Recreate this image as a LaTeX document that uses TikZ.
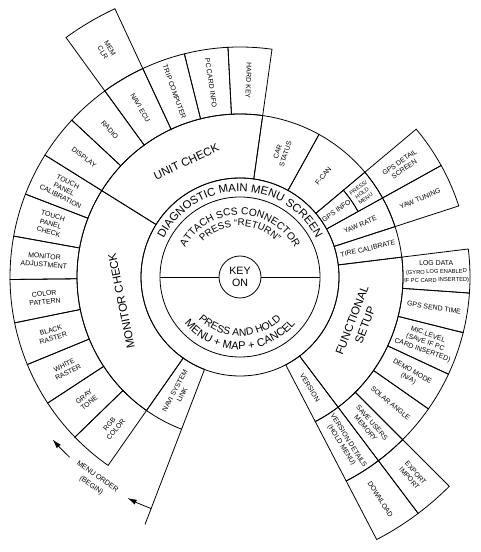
\documentclass[tikz,border=0pt]{standalone}
\usepackage{fontspec}
\setmainfont{Liberation Sans}
\usetikzlibrary{decorations.text,arrows.meta}
\newcommand\drawsector[4]{\draw (#1:#3) arc[start angle=#1,end angle=#2,radius=#3] -- (#2:#4) arc[start angle=#2,end angle=#1,radius=#4] -- cycle;}
\begin{document}
\begin{tikzpicture}[x=0.75pt,y=0.75pt,line width=0.6pt,
  cell/.style={font=\fontsize{5.2}{6.2}\selectfont,align=center,inner sep=0pt},
  tinycell/.style={font=\fontsize{4.1}{4.9}\selectfont,align=center,inner sep=0pt},
  big/.style={font=\fontsize{8.6}{10.5}\selectfont,align=center,inner sep=0pt},
  arrowtip/.style={-{Latex[length=7pt,width=4pt]}}]
\useasboundingbox (-240,-275) rectangle (240,277);

% central rings
\draw (0,0) circle[radius=99];
\draw (0,0) circle[radius=80];
\node[draw,circle,minimum size=31.5pt,inner sep=0pt,align=center,font=\fontsize{8}{9}\selectfont] (key) at (0,0) {KEY\\ON};
\coordinate (kl) at (180:80);
\coordinate (kr) at (0:80);
\draw (key.west) -- (kl);
\draw (key.east) -- (kr);

% ring 2
\drawsector{82}{148}{99}{163}
\drawsector{148}{235}{99}{163}
\drawsector{235}{249}{99}{163}
\drawsector{-62.5}{-53}{99}{163}
\drawsector{-53}{7}{99}{163}
\drawsector{7}{18}{99}{163}
\drawsector{18}{29}{99}{163}
\drawsector{29}{40}{99}{135}
\drawsector{29}{40}{135}{163}
\drawsector{40}{61}{99}{163}
\drawsector{61}{82}{99}{163}

% ring 3
\foreach \a in {82,93,104,115,126,137}{\pgfmathsetmacro\b{\a+11}\drawsector{\a}{\b}{163}{230}}
\foreach \k in {0,...,7}{\pgfmathsetmacro\a{148+10.875*\k}\pgfmathsetmacro\b{\a+10.875}\drawsector{\a}{\b}{163}{230}}
\drawsector{18}{29}{163}{230}
\drawsector{29}{40}{163}{230}
\drawsector{-4}{7}{163}{230}
\drawsector{-14}{-4}{163}{230}
\drawsector{-25}{-14}{163}{230}
\drawsector{-35}{-25}{163}{230}
\drawsector{-45}{-35}{163}{230}
\drawsector{-53}{-45}{163}{230}
\drawsector{-62.5}{-53}{163}{230}

% ring 4
\drawsector{115}{126}{230}{296}
\drawsector{-53}{-45}{230}{296}
\drawsector{-62.5}{-53}{230}{296}

% begin line and menu order arrows
\coordinate (b1) at (249:163);
\coordinate (b2) at (249:265);
\draw (b1) -- (b2);
\draw[arrowtip] (249:248) arc[start angle=249,end angle=243,radius=248];
\draw[arrowtip] (226.6:248) arc[start angle=226.6,end angle=220.9,radius=248];
\node[cell,font=\fontsize{5.4}{8}\selectfont,rotate=-35.5] (mo) at (234.5:251) {MENU ORDER\\(BEGIN)};

% curved texts
\path[decorate,decoration={text along path,text align=center,
  text={|\fontsize{8.5}{10}\selectfont|DIAGNOSTIC MAIN MENU SCREEN}}]
  (180:85.5) arc[start angle=180,end angle=0,radius=85.5];
\path[decorate,decoration={text along path,text align=center,
  text={|\fontsize{7.7}{9}\selectfont|ATTACH SCS CONNECTOR}}]
  (180:62) arc[start angle=180,end angle=0,radius=62];
\path[decorate,decoration={text along path,text align=center,
  text={|\fontsize{7.3}{9}\selectfont|PRESS “RETURN”}}]
  (180:51) arc[start angle=180,end angle=0,radius=51];
\path[decorate,decoration={text along path,text align=center,
  text={|\fontsize{7.8}{9}\selectfont|PRESS AND HOLD}}]
  (180:59) arc[start angle=180,end angle=360,radius=59];
\path[decorate,decoration={text along path,text align=center,
  text={|\fontsize{8.3}{9}\selectfont|MENU + MAP + CANCEL}}]
  (180:72.5) arc[start angle=180,end angle=360,radius=72.5];

% main labels
\node[big,rotate=25] (uc) at (115:127) {UNIT CHECK};
\node[big,rotate=101.5] (mc) at (191.5:121) {MONITOR CHECK};
\node[big,rotate=69] (fs) at (-21:127) {FUNCTIONAL\\SETUP};

% unit check subs
\node[cell,rotate=-92.5] (hk) at (87.5:196.5) {HARD KEY};
\node[cell,rotate=-81.5] (pc) at (98.5:196.5) {PC CARD INFO};
\node[cell,rotate=-70.5] (tc) at (109.5:196.5) {TRIP COMPUTER};
\node[cell,rotate=-59.5] (ne) at (120.5:196.5) {NAVI ECU};
\node[cell,rotate=-48.5] (ra) at (131.5:196.5) {RADIO};
\node[cell,rotate=-37.5] (di) at (142.5:196.5) {DISPLAY};
\node[cell,rotate=-59.5] (mem) at (120.5:263) {MEM\\CLR};

% monitor check subs
\node[cell,rotate=-26.56] (m1) at (153.44:196.5) {TOUCH\\PANEL\\CALIBRATION};
\node[cell,rotate=-15.69] (m2) at (164.31:196.5) {TOUCH\\PANEL\\CHECK};
\node[cell,rotate=-4.81] (m3) at (175.19:196.5) {MONITOR\\ADJUSTMENT};
\node[cell,rotate=6.06] (m4) at (186.06:196.5) {COLOR\\PATTERN};
\node[cell,rotate=16.94] (m5) at (196.94:196.5) {BLACK\\RASTER};
\node[cell,rotate=27.81] (m6) at (207.81:196.5) {WHITE\\RASTER};
\node[cell,rotate=38.69] (m7) at (218.69:196.5) {GRAY\\TONE};
\node[cell,rotate=49.56] (m8) at (229.56:196.5) {RGB\\COLOR};
\node[cell,rotate=62] (nsl) at (242:131) {NAVI SYSTEM\\LINK};

% right side ring 2
\node[cell,rotate=71.5] (cs) at (71.5:131) {CAR\\STATUS};
\node[cell,rotate=50.5] (fc) at (50.5:131) {F-CAN};
\node[cell,rotate=34.5] (gi) at (34.5:117) {GPS INFO};
\node[tinycell,rotate=34.5] (phm) at (34.5:148) {PRESS/\\HOLD\\MENU};
\node[cell,rotate=23.5] (yr) at (23.5:131) {YAW RATE};
\node[cell,rotate=12.5] (tcal) at (12.5:131) {TIRE CALIBRATE};
\node[cell,rotate=-57.75] (ver) at (-57.75:131) {VERSION};

% right side ring 3
\node[cell,rotate=34.5] (gds) at (34.5:196.5) {GPS DETAIL\\SCREEN};
\node[cell,rotate=23.5] (yt) at (23.5:196.5) {YAW TUNING};
\node[cell,rotate=1.5] (ld) at (1.5:196.5) {LOG DATA\\{\fontsize{4.3}{5.2}\selectfont (GYRO LOG ENABLED}\\{\fontsize{4.3}{5.2}\selectfont IF PC CARD INSERTED)}};
\node[cell,rotate=-9] (gst) at (-9:196.5) {GPS SEND TIME};
\node[cell,rotate=-19.5] (mic) at (-19.5:196.5) {MIC.LEVEL\\(SAVE IF PC\\CARD INSERTED)};
\node[cell,rotate=-30] (dm) at (-30:196.5) {DEMO MODE\\(N/A)};
\node[cell,rotate=-40] (sa) at (-40:196.5) {SOLAR ANGLE};
\node[cell,rotate=-49] (sum) at (-49:196.5) {SAVE USERS\\MEMORY};
\node[cell,rotate=-57.75] (vd) at (-57.75:196.5) {VERSION DETAILS\\(HOLD MENU)};

% ring 4 labels
\node[cell,rotate=-49] (ei) at (-49:263) {EXPORT\\IMPORT};
\node[cell,rotate=-57.75] (dl) at (-57.75:263) {DOWNLOAD};
\end{tikzpicture}
\end{document}
